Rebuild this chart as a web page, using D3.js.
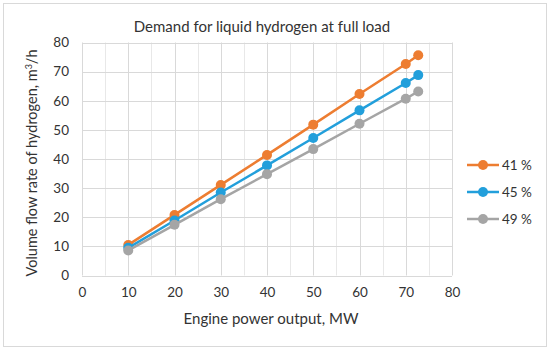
<html>
<script src='https://d3js.org/d3.v7.min.js'></script>
<style>
body {margin:0; background:#fff;}
text {font-family: Lato, 'Open Sans', sans-serif; fill:#333333;}
</style>
<body onload='init()'>
<svg width=550 height=351></svg>
<script>
var power = [10, 20, 30, 40, 50, 60, 70, 72.7];
var eff41 = [10.5, 20.8, 31.1, 41.4, 51.8, 62.3, 72.6, 75.6];
var eff45 = [9.5, 18.9, 28.5, 37.8, 47.2, 56.7, 66.1, 68.8];
var eff49 = [8.6, 17.4, 26.2, 34.8, 43.4, 52.1, 60.7, 63.2];
var seriesNames = ["41 %", "45 %", "49 %"];
var xTicks = [0, 10, 20, 30, 40, 50, 60, 70, 80];
var yTicks = [0, 10, 20, 30, 40, 50, 60, 70, 80];

function init() {
var colors = ["#ED7D31", "#229FDB", "#A5A5A5"];
var series = [eff41, eff45, eff49];

var svg = d3.select("svg");

// outer frame
svg.append("rect").attr("x", 3.5).attr("y", 3.5).attr("width", 543).attr("height", 343)
    .attr("fill", "none").attr("stroke", "#d9d9d9");

var x = d3.scaleLinear([0, 80], [82, 452]);
var y = d3.scaleLinear([0, 80], [275.5, 42.5]);

var grid = svg.append("g").attr("stroke", "#d9d9d9").attr("stroke-width", 1);
// minor verticals every 5
d3.range(5, 80, 10).forEach(function(v) {
    grid.append("line").attr("x1", Math.round(x(v)) + 0.5).attr("x2", Math.round(x(v)) + 0.5)
        .attr("y1", y(0)).attr("y2", y(80)).attr("stroke", "#e8e8e8");
});
xTicks.forEach(function(v) {
    grid.append("line").attr("x1", Math.round(x(v)) + 0.5).attr("x2", Math.round(x(v)) + 0.5)
        .attr("y1", y(0)).attr("y2", y(80));
});
yTicks.forEach(function(v) {
    grid.append("line").attr("x1", x(0)).attr("x2", x(80))
        .attr("y1", Math.round(y(v)) + 0.5).attr("y2", Math.round(y(v)) + 0.5);
});

var xAxis = d3.axisBottom(x).tickValues(xTicks).tickSize(0).tickPadding(12);
var yAxis = d3.axisLeft(y).tickValues(yTicks).tickSize(0).tickPadding(13);

svg.append("g").attr("transform", "translate(0," + y(0) + ")").call(xAxis)
    .call(function(g) { g.select(".domain").remove(); })
    .selectAll("text").style("font-size", "13.5px").style("font-family", "Lato, sans-serif").attr("fill", "#333333");
svg.append("g").attr("transform", "translate(" + x(0) + ",0)").call(yAxis)
    .call(function(g) { g.select(".domain").remove(); })
    .selectAll("text").style("font-size", "13.5px").style("font-family", "Lato, sans-serif").attr("fill", "#333333");

var line = d3.line().x(function(d, i) { return x(power[i]); }).y(function(d) { return y(d); });

series.forEach(function(s, k) {
    svg.append("path").datum(s).attr("d", line).attr("fill", "none")
        .attr("stroke", colors[k]).attr("stroke-width", 2.5);
    svg.append("g").selectAll("circle").data(s).enter().append("circle")
        .attr("cx", function(d, i) { return x(power[i]); })
        .attr("cy", function(d) { return y(d); })
        .attr("r", 5).attr("fill", colors[k]);
});

// legend
seriesNames.forEach(function(n, k) {
    var ly = 165 + k * 27;
    svg.append("line").attr("x1", 467).attr("x2", 499).attr("y1", ly).attr("y2", ly)
        .attr("stroke", colors[k]).attr("stroke-width", 2.5);
    svg.append("circle").attr("cx", 483).attr("cy", ly).attr("r", 5).attr("fill", colors[k]);
    svg.append("text").attr("x", 502).attr("y", ly).attr("dy", "0.35em")
        .style("font-size", "13.5px").text(n);
});

svg.append("text").attr("x", 262).attr("y", 32).attr("text-anchor", "middle")
    .style("font-size", "15px").text("Demand for liquid hydrogen at full load");
svg.append("text").attr("x", 271).attr("y", 324).attr("text-anchor", "middle")
    .style("font-size", "15px").text("Engine power output, MW");
var yl = svg.append("text").attr("transform", "translate(37,163) rotate(-90)")
    .attr("text-anchor", "middle").style("font-size", "14.5px");
yl.append("tspan").text("Volume flow rate of hydrogen, m");
yl.append("tspan").attr("dy", "-5").style("font-size", "9px").text("3");
yl.append("tspan").attr("dy", "5").text("/h");
}
</script>
</body>
</html>
